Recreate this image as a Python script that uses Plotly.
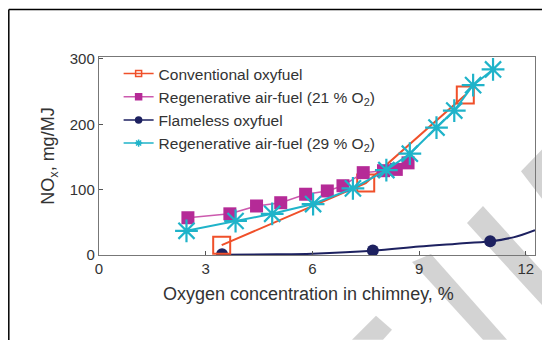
import plotly.graph_objects as go

# ---- data ----
conv_x = [3.45, 7.5, 10.3]
conv_y = [15, 110, 245]

regen21_x = [2.5, 3.68, 4.43, 5.11, 5.81, 6.42, 6.86, 7.43, 8.0, 8.36, 8.69]
regen21_y = [57, 63, 75, 80, 93, 98, 106, 126, 129, 131, 141]

flameless_x = [3.46, 7.7, 11.0]
flameless_y = [1, 7, 21]
flameless_curve_x = [3.46, 5.0, 6.0, 7.7, 9.0, 10.0, 11.0, 11.65, 12.26]
flameless_curve_y = [0.5, 1.0, 2.0, 6.5, 13, 17, 21, 27, 38]

regen29_x = [2.46, 3.84, 4.87, 6.02, 7.14, 8.08, 8.74, 9.49, 9.99, 10.52, 11.08]
regen29_y = [37, 52, 63, 78, 102, 130, 155, 195, 221, 260, 284]

x_ticks = [0, 3, 6, 9, 12]
y_ticks = [0, 100, 200, 300]

x_title = "Oxygen concentration in chimney, %"
y_title = "NO<sub>x</sub>, mg/MJ"

C_CONV = "#f0502a"
C_R21 = "#b52a97"
C_R21_LINE = "#cc5aae"
C_FLAME = "#1d2160"
C_R29 = "#1fb3c9"

# ---- layout geometry (screen pixels; page has an 8px body margin) ----
OFF = 8
W, H = 550 - OFF, 340 - OFF
L, R, T, B = 99, 535, 56.5, 255  # screen coords of plot area

def px(x, y):
    return (x - L) / (R - L), (B - y) / (B - T)

def poly(points):
    parts = []
    for i, (x, y) in enumerate(points):
        u, v = px(x, y)
        parts.append(("M" if i == 0 else "L") + f"{u:.4f},{v:.4f}")
    return " ".join(parts) + " Z"

fig = go.Figure()

# data traces
fig.add_trace(go.Scatter(x=flameless_curve_x, y=flameless_curve_y, mode="lines",
                         line=dict(color=C_FLAME, width=2, shape="spline"),
                         showlegend=False, hoverinfo="skip"))
fig.add_trace(go.Scatter(x=flameless_x, y=flameless_y, mode="markers",
                         marker=dict(symbol="circle", size=12, color=C_FLAME),
                         showlegend=False))
fig.add_trace(go.Scatter(x=conv_x, y=conv_y, mode="lines+markers",
                         line=dict(color=C_CONV, width=2),
                         marker=dict(symbol="square-open", size=17, color=C_CONV,
                                     line=dict(width=2, color=C_CONV)),
                         showlegend=False))
fig.add_trace(go.Scatter(x=regen21_x, y=regen21_y, mode="lines+markers",
                         line=dict(color=C_R21_LINE, width=1.5),
                         marker=dict(symbol="square", size=13, color=C_R21),
                         showlegend=False))
fig.add_trace(go.Scatter(x=regen29_x, y=regen29_y, mode="lines+markers",
                         line=dict(color=C_R29, width=2),
                         marker=dict(symbol="asterisk-open", size=19, color=C_R29,
                                     line=dict(width=2.2, color=C_R29)),
                         showlegend=False))

# legend-only entries with small symbols
legend_items = [
    ("Conventional oxyfuel", C_CONV, C_CONV, "square-open"),
    ("Regenerative air-fuel (21 % O<sub>2</sub>)", C_R21_LINE, C_R21, "square"),
    ("Flameless oxyfuel", C_FLAME, C_FLAME, "circle"),
    ("Regenerative air-fuel (29 % O<sub>2</sub>)", C_R29, C_R29, "asterisk-open"),
]
for name, lc, mc, sym in legend_items:
    fig.add_trace(go.Scatter(x=[None], y=[None], mode="lines+markers", name=name,
                             line=dict(color=lc, width=1.5),
                             marker=dict(symbol=sym, size=6, color=mc,
                                         line=dict(width=1.5, color=mc))))

# watermark stripes
stripes = [
    [(483, 206), (550, 280), (550, 314), (467, 223)],
    [(412, 262), (431, 254), (507, 340), (483, 340)],
    [(352, 340), (376, 316), (392, 330), (383, 340)],
    [(521, 171), (550, 141), (550, 209)],
]
shapes = []
for s in stripes:
    shapes.append(dict(type="path", path=poly(s), xref="paper", yref="paper",
                       fillcolor="#d3d3d3", line=dict(width=0), layer="below"))
# outer frame lines (top and left)
u0, v0 = px(8.8, 8.8)
u1, _ = px(552, 8.8)
_, v1 = px(8.8, 345)
shapes.append(dict(type="line", xref="paper", yref="paper", x0=u0, y0=v0, x1=u1, y1=v0,
                   line=dict(color="black", width=1.5)))
shapes.append(dict(type="line", xref="paper", yref="paper", x0=u0, y0=v0, x1=u0, y1=v1,
                   line=dict(color="black", width=1.5)))

tx, ty = px(308, 294)

font = "Liberation Sans, Arial, sans-serif"
fig.update_layout(
    width=W, height=H,
    margin=dict(l=L - OFF, r=550 - R, t=T - OFF, b=340 - B),
    paper_bgcolor="white", plot_bgcolor="white",
    font=dict(family=font, size=13, color="#333333"),
    shapes=shapes,
    annotations=[dict(text=x_title, xref="paper", yref="paper", x=tx, y=ty,
                      xanchor="center", yanchor="middle", showarrow=False,
                      font=dict(size=18, color="#333333"))],
    showlegend=True,
    legend=dict(x=0.045, y=1.0, xanchor="left", yanchor="top",
                bgcolor="rgba(0,0,0,0)", font=dict(size=15.5, color="#333333"),
                itemwidth=30, tracegroupgap=0),
    xaxis=dict(range=[0, 12.26], tickvals=x_ticks, ticktext=[str(v) for v in x_ticks],
               showgrid=False, zeroline=False, showline=True, mirror=True,
               linecolor="#777777", linewidth=1.4, ticks="inside", ticklen=4,
               tickcolor="#555555", tickfont=dict(size=15)),
    yaxis=dict(range=[0, 303], tickvals=y_ticks, ticktext=[str(v) for v in y_ticks],
               showgrid=False, zeroline=False, showline=True, mirror=True,
               linecolor="#777777", linewidth=1.4, ticks="inside", ticklen=4,
               tickcolor="#555555", tickfont=dict(size=15),
               title=dict(text=y_title, font=dict(size=18), standoff=10)),
)

fig.write_html("out.html")
